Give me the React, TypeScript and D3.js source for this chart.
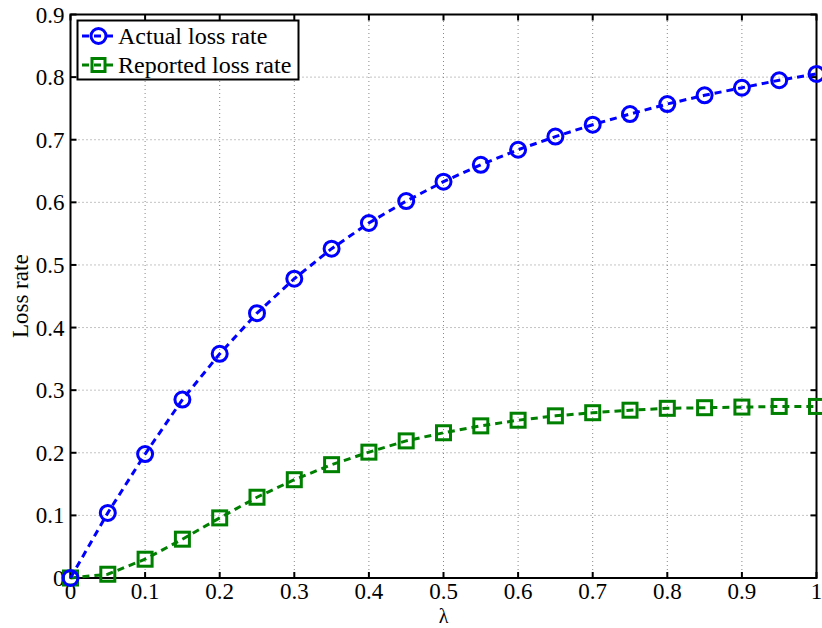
import React, { useEffect, useRef } from "react";
import * as d3 from "d3";

// λ sample points and the two measured loss-rate series
const lambdas = [0, 0.05, 0.1, 0.15, 0.2, 0.25, 0.3, 0.35, 0.4, 0.45, 0.5, 0.55, 0.6, 0.65, 0.7, 0.75, 0.8, 0.85, 0.9, 0.95, 1];
const actualLoss = [0, 0.104, 0.198, 0.285, 0.358, 0.423, 0.478, 0.526, 0.567, 0.602, 0.633, 0.660, 0.684, 0.705, 0.724, 0.741, 0.757, 0.771, 0.783, 0.795, 0.805];
const reportedLoss = [0, 0.006, 0.030, 0.062, 0.096, 0.129, 0.157, 0.181, 0.201, 0.219, 0.232, 0.243, 0.252, 0.259, 0.264, 0.268, 0.271, 0.272, 0.273, 0.274, 0.274];

const xTicks = [0, 0.1, 0.2, 0.3, 0.4, 0.5, 0.6, 0.7, 0.8, 0.9, 1];
const yTicks = [0, 0.1, 0.2, 0.3, 0.4, 0.5, 0.6, 0.7, 0.8, 0.9];
const seriesNames = ["Actual loss rate", "Reported loss rate"];

const W = 822, H = 628;
const M = { left: 70.5, right: 5.5, top: 14.5, bottom: 50 };
const FONT = "'Liberation Serif', 'Times New Roman', serif";

export default function App() {
  const ref = useRef<SVGSVGElement>(null);

  useEffect(() => {
    const svg = d3.select(ref.current);
    svg.selectAll("*").remove();

    const x = d3.scaleLinear().domain([0, 1]).range([M.left, W - M.right]);
    const y = d3.scaleLinear().domain([0, 0.9]).range([H - M.bottom, M.top]);
    const [x0, x1] = x.range();
    const [y0, y1] = y.range();

    svg.append("rect").attr("width", W).attr("height", H).attr("fill", "#fff");

    // dotted grid
    const grid = svg.append("g").attr("stroke", "#888").attr("stroke-width", 1).attr("stroke-dasharray", "1,3");
    xTicks.slice(1, -1).forEach(t => {
      grid.append("line").attr("x1", x(t)).attr("x2", x(t)).attr("y1", y0).attr("y2", y1);
    });
    yTicks.slice(1, -1).forEach(t => {
      grid.append("line").attr("x1", x0).attr("x2", x1).attr("y1", y(t)).attr("y2", y(t));
    });

    // ticks on all four sides, pointing inward
    const tk = svg.append("g").attr("stroke", "#000").attr("stroke-width", 2);
    const tl = 6;
    xTicks.forEach(t => {
      tk.append("line").attr("x1", x(t)).attr("x2", x(t)).attr("y1", y0).attr("y2", y0 - tl);
      tk.append("line").attr("x1", x(t)).attr("x2", x(t)).attr("y1", y1).attr("y2", y1 + tl);
    });
    yTicks.forEach(t => {
      tk.append("line").attr("x1", x0).attr("x2", x0 + tl).attr("y1", y(t)).attr("y2", y(t));
      tk.append("line").attr("x1", x1).attr("x2", x1 - tl).attr("y1", y(t)).attr("y2", y(t));
    });

    // frame
    svg.append("rect").attr("x", x0).attr("y", y1).attr("width", x1 - x0).attr("height", y0 - y1)
      .attr("fill", "none").attr("stroke", "#000").attr("stroke-width", 2);

    // tick labels
    const fmt = (t: number) => (t === 0 || t === 1 ? String(t) : t.toFixed(1));
    svg.append("g").selectAll("text").data(xTicks).join("text")
      .attr("x", d => x(d)).attr("y", y0 + 21).attr("text-anchor", "middle")
      .attr("font-family", FONT).attr("font-size", 23).text(d => fmt(d));
    svg.append("g").selectAll("text").data(yTicks).join("text")
      .attr("x", x0 - 6).attr("y", d => y(d) + 8).attr("text-anchor", "end")
      .attr("font-family", FONT).attr("font-size", 23).text(d => fmt(d));

    // axis titles
    svg.append("text").attr("x", (x0 + x1) / 2).attr("y", H - 5).attr("text-anchor", "middle")
      .attr("font-family", FONT).attr("font-size", 20).text("λ");
    svg.append("text").attr("transform", `translate(28,${(y0 + y1) / 2}) rotate(-90)`)
      .attr("text-anchor", "middle").attr("font-family", FONT).attr("font-size", 23).text("Loss rate");

    const line = d3.line<[number, number]>().x(d => x(d[0])).y(d => y(d[1]));

    const drawSeries = (vals: number[], color: string, marker: "circle" | "square") => {
      const pts: [number, number][] = lambdas.map((l, i) => [l, vals[i]]);
      const g = svg.append("g");
      g.append("path").datum(pts).attr("d", line).attr("fill", "none")
        .attr("stroke", color).attr("stroke-width", 3).attr("stroke-dasharray", "7,5");
      pts.forEach(p => {
        if (marker === "circle") {
          g.append("circle").attr("cx", x(p[0])).attr("cy", y(p[1])).attr("r", 7.5)
            .attr("fill", "none").attr("stroke", color).attr("stroke-width", 3);
        } else {
          g.append("rect").attr("x", x(p[0]) - 7).attr("y", y(p[1]) - 7).attr("width", 14).attr("height", 14)
            .attr("fill", "none").attr("stroke", color).attr("stroke-width", 3);
        }
      });
    };

    drawSeries(reportedLoss, "#008000", "square");
    drawSeries(actualLoss, "#0000ff", "circle");

    // legend
    const lg = svg.append("g");
    lg.append("rect").attr("x", 77.5).attr("y", 20.5).attr("width", 221).attr("height", 59)
      .attr("fill", "#fff").attr("stroke", "#000").attr("stroke-width", 2);
    const rows = [
      { name: seriesNames[0], color: "#0000ff", marker: "circle", cy: 36 },
      { name: seriesNames[1], color: "#008000", marker: "square", cy: 65 },
    ];
    rows.forEach(r => {
      lg.append("line").attr("x1", 82).attr("x2", 115).attr("y1", r.cy).attr("y2", r.cy)
        .attr("stroke", r.color).attr("stroke-width", 3).attr("stroke-dasharray", "7,5");
      if (r.marker === "circle") {
        lg.append("circle").attr("cx", 98.5).attr("cy", r.cy).attr("r", 7.5)
          .attr("fill", "none").attr("stroke", r.color).attr("stroke-width", 3);
      } else {
        lg.append("rect").attr("x", 92).attr("y", r.cy - 6.5).attr("width", 13).attr("height", 13)
          .attr("fill", "none").attr("stroke", r.color).attr("stroke-width", 3);
      }
      lg.append("text").attr("x", 118).attr("y", r.cy + 8).attr("font-family", FONT)
        .attr("font-size", 24).text(r.name);
    });
  }, []);

  return <svg ref={ref} width={W} height={H} style={{ display: "block", position: "absolute", left: 0, top: 0 }} />;
}
